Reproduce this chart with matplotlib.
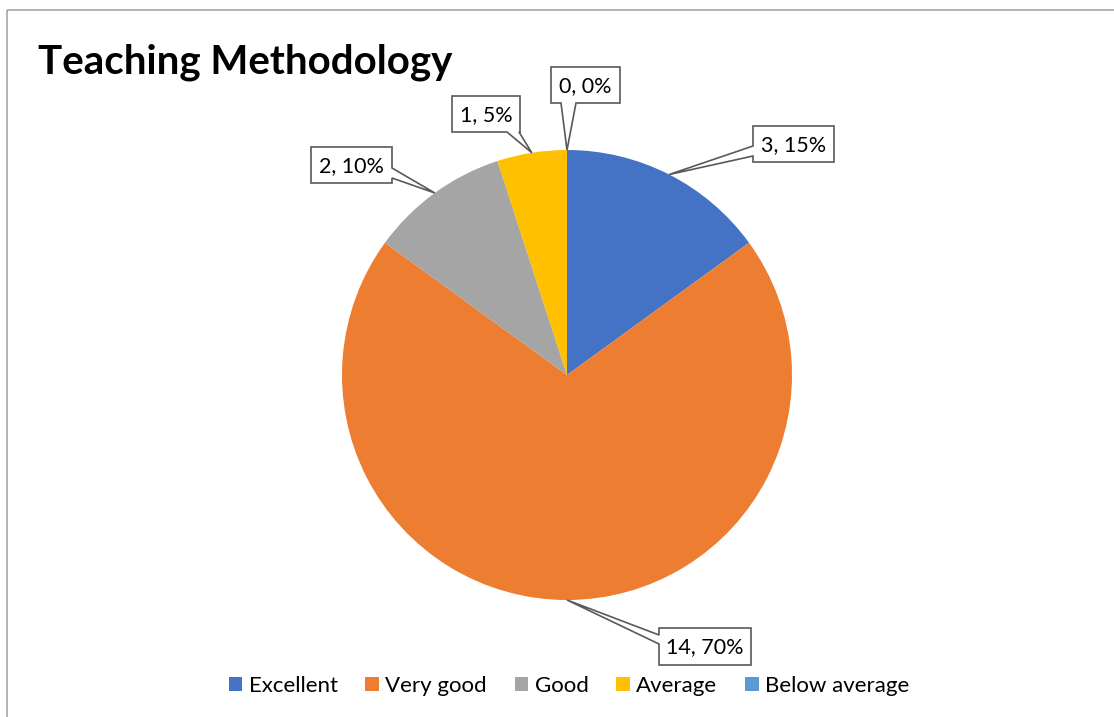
import numpy as np
import matplotlib
matplotlib.use("Agg")
import matplotlib.pyplot as plt
from matplotlib.patches import Polygon, Rectangle, Patch

categories = ["Excellent", "Very good", "Good", "Average", "Below average"]
counts = [3, 14, 2, 1, 0]
percents = [15, 70, 10, 5, 0]
colors = ["#4472C4", "#ED7D31", "#A5A5A5", "#FFC000", "#5B9BD5"]
title = "Teaching Methodology"

# callout layout (pixel coords): box x0, y0, x1, y1, pointer side, pointer base range
callouts = {
    "Excellent": ((753, 126, 834, 162), "left", (146, 156)),
    "Very good": ((659, 628, 751, 665), "left", (635, 644)),
    "Good": ((311, 147, 392, 183), "right", (168, 178)),
    "Average": ((452, 96, 520, 132), "bottom", (507, 519)),
    "Below average": ((551, 67, 620, 103), "bottom", (561, 576)),
}

plt.rcParams['font.family'] = ['Lato', 'DejaVu Sans']
W, H = 1114, 717
fig = plt.figure(figsize=(W / 100, H / 100), dpi=100)
ax = fig.add_axes([0, 0, 1, 1])

cx, cy, r = 567, 375, 225
wedges, _ = ax.pie(counts, colors=colors, startangle=-90, counterclock=True,
                   center=(cx, cy), radius=r, frame=True,
                   wedgeprops=dict(linewidth=0))
ax.set_xlim(0, W)
ax.set_ylim(H, 0)
ax.set_aspect('equal')
ax.axis('off')

for w, cat, n, p in zip(wedges, categories, counts, percents):
    mid = np.deg2rad((w.theta1 + w.theta2) / 2)
    tx, ty = cx + r * np.cos(mid), cy + r * np.sin(mid)
    (x0, y0, x1, y1), side, (a, b) = callouts[cat]
    if side == "left":
        pts = [(x0, y0), (x1, y0), (x1, y1), (x0, y1), (x0, b), (tx, ty), (x0, a)]
    elif side == "right":
        pts = [(x0, y0), (x1, y0), (x1, a), (tx, ty), (x1, b), (x1, y1), (x0, y1)]
    elif side == "bottom":
        pts = [(x0, y0), (x1, y0), (x1, y1), (b, y1), (tx, ty), (a, y1), (x0, y1)]
    else:
        pts = [(x0, y0), (a, y0), (tx, ty), (b, y0), (x1, y0), (x1, y1), (x0, y1)]
    ax.add_patch(Polygon(pts, closed=True, facecolor="white", edgecolor="#595959",
                         linewidth=1.2, zorder=5, joinstyle='miter'))
    ax.text((x0 + x1) / 2, (y0 + y1) / 2 + 1, f"{n}, {p}%", ha="center", va="center",
            fontsize=15.5, color="black", zorder=6)

ax.text(38, 62, title, fontsize=29, fontweight="bold", ha="left", va="center", color="black")

# outer chart border (cropped at right/bottom)
ax.add_patch(Rectangle((7, 10), 1300, 900, fill=False, edgecolor="#A6A6A6",
                       linewidth=1.2, clip_on=False, zorder=10))

handles = [Patch(facecolor=c, edgecolor="none") for c in colors]
leg = ax.legend(handles, categories, ncol=5, loc="center",
                bbox_to_anchor=(569, 686), bbox_transform=ax.transData,
                frameon=False, fontsize=16, handlelength=0.6, handleheight=0.6,
                handletextpad=0.3, columnspacing=1.25, borderaxespad=0)

fig.savefig("out.png", dpi=100, facecolor="white")
